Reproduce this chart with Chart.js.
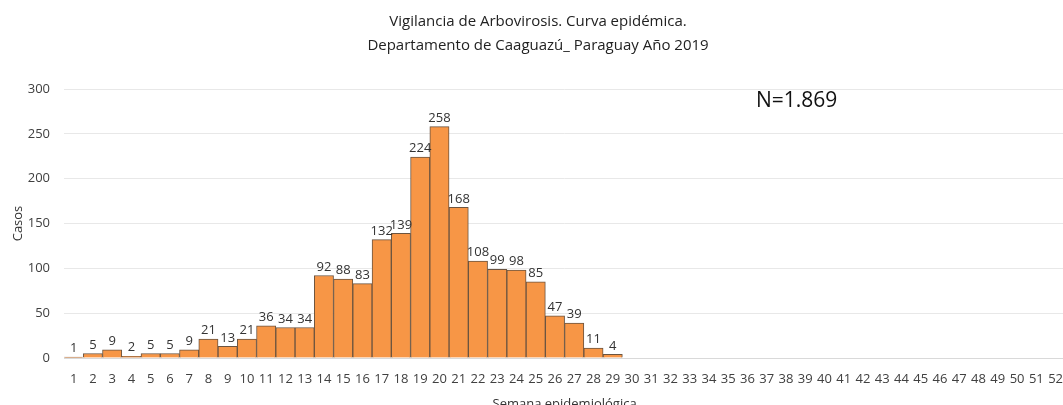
<!DOCTYPE html>
<html>
<head>
<meta charset="utf-8">
<script src="https://cdn.jsdelivr.net/npm/chart.js@4.4.1/dist/chart.umd.min.js"></script>
<style>
  html, body { margin: 0; padding: 0; background: #fff; overflow: hidden; }
  #wrap { width: 1076px; height: 412px; }
</style>
</head>
<body>
<div id="wrap"><canvas id="curveChart" width="1076" height="412"></canvas></div>
<script>
// Semanas epidemiológicas 1..52
const weeks = [];
for (let w = 1; w <= 52; w++) weeks.push(String(w));

// Casos por semana (semanas 30-52 sin casos)
const cases = [1, 5, 9, 2, 5, 5, 9, 21, 13, 21, 36, 34, 34, 92, 88, 83, 132, 139, 224, 258,
               168, 108, 99, 98, 85, 47, 39, 11, 4];

const yTicks = [0, 50, 100, 150, 200, 250, 300];
const titleLines = ['Vigilancia de Arbovirosis. Curva epidémica.', 'Departamento de Caaguazú_ Paraguay Año 2019'];
const totalLabel = 'N=1.869';

const fontFamily = '"Open Sans", "Noto Sans", sans-serif';

// Value labels on top of each bar
const barLabels = {
    id: 'barLabels',
    afterDatasetsDraw(chart) {
        const ctx = chart.ctx;
        const meta = chart.getDatasetMeta(0);
        ctx.save();
        ctx.font = '13px ' + fontFamily;
        ctx.fillStyle = '#333';
        ctx.textAlign = 'center';
        ctx.textBaseline = 'bottom';
        meta.data.forEach((bar, i) => {
            const v = cases[i];
            if (v == null) return;
            ctx.fillText(String(v), bar.x, bar.y - 2);
        });
        ctx.restore();
    }
};

// "N=" annotation box
const totalBox = {
    id: 'totalBox',
    afterDraw(chart) {
        const ctx = chart.ctx;
        ctx.save();
        ctx.font = '21px ' + fontFamily;
        ctx.fillStyle = '#111';
        ctx.textAlign = 'left';
        ctx.textBaseline = 'middle';
        ctx.fillText(totalLabel, 756, 101);
        ctx.restore();
    }
};

new Chart(document.getElementById('curveChart'), {
    type: 'bar',
    data: {
        labels: weeks,
        datasets: [{
            data: cases,
            backgroundColor: '#F79646',
            borderColor: '#6b5440',
            borderWidth: 1,
            categoryPercentage: 1.0,
            barPercentage: 1.0
        }]
    },
    options: {
        responsive: false,
        animation: false,
        layout: { padding: { left: 0, right: 0, top: 0, bottom: 0 } },
        plugins: {
            legend: { display: false },
            tooltip: { enabled: false },
            title: {
                display: true,
                text: titleLines,
                color: '#222',
                font: { family: fontFamily, size: 15, weight: 'normal', lineHeight: 1.6 },
                padding: { top: 10, bottom: 31 }
            }
        },
        scales: {
            x: {
                grid: { display: false, drawTicks: false },
                border: { color: '#d9d9d9' },
                ticks: {
                    autoSkip: false,
                    maxRotation: 0,
                    color: '#404040',
                    padding: 13,
                    font: { family: fontFamily, size: 13 }
                },
                title: {
                    display: true,
                    text: 'Semana epidemiológica',
                    color: '#333',
                    font: { family: fontFamily, size: 13 },
                    padding: { top: 2, bottom: 0 }
                },
                afterFit(scale) { scale.height = 54; }
            },
            y: {
                min: 0,
                max: 300,
                afterBuildTicks(scale) { scale.ticks = yTicks.map(v => ({ value: v })); },
                grid: { color: '#e8e8e8', drawTicks: false },
                border: { display: false },
                ticks: {
                    color: '#404040',
                    padding: 14,
                    font: { family: fontFamily, size: 13 }
                },
                title: {
                    display: true,
                    text: 'Casos',
                    color: '#333',
                    font: { family: fontFamily, size: 13 },
                    padding: { top: 10, bottom: 4 }
                },
                afterFit(scale) { scale.width = 64; }
            }
        }
    },
    plugins: [barLabels, totalBox]
});
</script>
</body>
</html>
